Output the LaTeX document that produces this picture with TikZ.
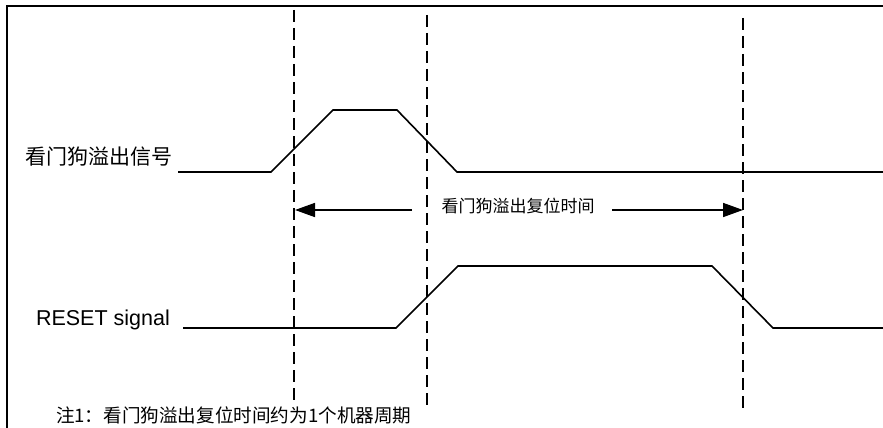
\documentclass[tikz,border=0pt]{standalone}
\usepackage{fontspec}
\setmainfont{Liberation Sans}
\newfontfamily\cjk{Noto Sans CJK SC}
\usetikzlibrary{arrows.meta}
\begin{document}
\begin{tikzpicture}[x=1pt,y=-1pt,
  frameline/.style={line width=2.6pt},
  sig/.style={line width=1.6pt, line join=miter},
  guide/.style={line width=2.4pt, dash pattern=on 12pt off 6pt},
  dimarrow/.style={line width=1.6pt, -{Triangle[length=20pt,width=14pt]}},
  lbl/.style={inner sep=0pt, outer sep=0pt}]
\useasboundingbox (0,0) rectangle (883,428);
% frame
\draw[frameline] (7,430) -- (7,6) -- (885,6);
% guide lines
\coordinate (g1t) at (294,10);  \coordinate (g1b) at (294,400);
\coordinate (g2t) at (427,15);  \coordinate (g2b) at (427,410);
\coordinate (g3t) at (743,18);  \coordinate (g3b) at (743,409);
\draw[guide] (g1t) -- (g1b);
\draw[guide] (g2t) -- (g2b);
\draw[guide] (g3t) -- (g3b);
% watchdog overflow signal
\node[lbl, anchor=west, font=\cjk\fontsize{21}{21}\selectfont] (wdl) at (25,157) {看门狗溢出信号};
\draw[sig] (178,172) -- (271,172) -- (333,110) -- (397,110) -- (457,172) -- (885,172);
% RESET signal
\node[lbl, anchor=base west, font=\fontsize{21.5}{21.5}\selectfont] (rsl) at (36,325) {RESET signal};
\draw[sig] (183,328) -- (396,328) -- (458,266) -- (712,266) -- (773,328) -- (885,328);
% reset time arrows
\node[lbl, font=\cjk\fontsize{17}{17}\selectfont] (rt) at (518,206) {看门狗溢出复位时间};
\coordinate (al) at (412,210); \coordinate (at) at (295,210);
\coordinate (bl) at (612,210); \coordinate (bt) at (743,210);
\draw[dimarrow] (al) -- (at);
\draw[dimarrow] (bl) -- (bt);
% note
\node[lbl, anchor=west, font=\cjk\fontsize{18.6}{18.6}\selectfont] (note) at (56,415) {注1：看门狗溢出复位时间约为1个机器周期};
\end{tikzpicture}
\end{document}
